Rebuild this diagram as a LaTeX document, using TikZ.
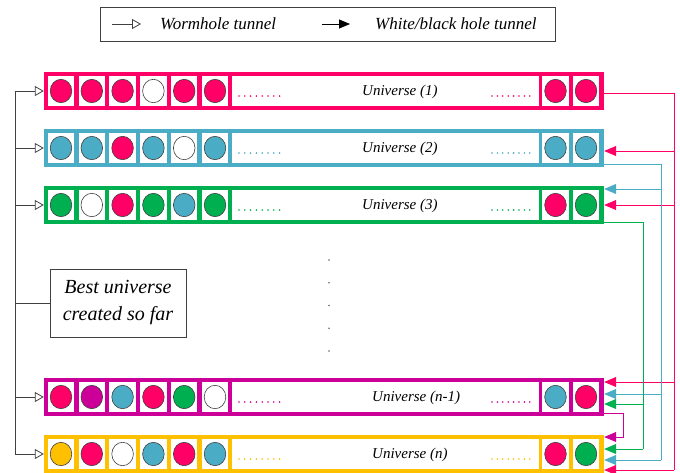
\documentclass[tikz,border=0pt]{standalone}
\usepackage{fontspec}
\setmainfont{Liberation Serif}
\usetikzlibrary{calc,arrows.meta,positioning}
\definecolor{upink}{HTML}{FF0066}
\definecolor{ublue}{HTML}{4BACC6}
\definecolor{ugreen}{HTML}{00B050}
\definecolor{umag}{HTML}{CC0099}
\definecolor{uyel}{HTML}{FFC000}

\begin{document}
\begin{tikzpicture}[x=1pt,y=-1pt,
 ubox/.style={fill=#1,minimum width=560pt,minimum height=38pt,inner sep=0pt},
 cell/.style={fill=white,inner sep=0pt,minimum height=30pt,minimum width=#1},
 worm/.style={draw=black!75,line width=0.8pt,-{Triangle[open,length=9pt,width=10pt]}},
 wb/.style={draw=#1,line width=0.8pt,-{Triangle[length=12pt,width=10pt,fill=#1]}},
 trunk/.style={draw=#1,line width=0.8pt},
 ulab/.style={font=\fontsize{15}{18}\selectfont\itshape,anchor=west,inner sep=0pt},
 legtxt/.style={font=\fontsize{17}{20}\selectfont\itshape,anchor=west,inner sep=0pt}]
\useasboundingbox (0,0) rectangle (680,472);

\node[draw=black!75,line width=0.8pt,minimum width=455pt,minimum height=34pt] (leg) at (328,24) {};
\node[legtxt] (lw) at (160,24) {Wormhole tunnel};
\node[legtxt] (lb) at (375,24) {White/black hole tunnel};
\draw[worm] ([xshift=-48pt]lw.west) -- ([xshift=-19pt]lw.west);
\draw[line width=0.8pt,-{Triangle[length=11pt,width=9pt]}] ([xshift=-53pt]lb.west) -- ([xshift=-25pt]lb.west);

\foreach \n/\y/\col/\lab/\tx/\balls in {
 1/91/upink/1/362/{upink,upink,upink,white,upink,upink,upink,upink},
 2/148/ublue/2/362/{ublue,ublue,upink,ublue,white,ublue,ublue,ublue},
 3/205/ugreen/3/362/{ugreen,white,upink,ugreen,ublue,ugreen,upink,ugreen},
 4/397/umag/n-1/372/{upink,umag,ublue,upink,ugreen,white,ublue,upink},
 5/454/uyel/n/372/{uyel,upink,white,ublue,upink,ublue,upink,ugreen}}
{
 \node[ubox=\col] (u\n) at (324,\y) {};
 \node[cell=307pt] at (385.5,\y) {};
 \foreach \bc [count=\m] in \balls
 {
  \pgfmathsetmacro\bx{\m<7 ? 61+(\m-1)*30.8 : 555.5+(\m-7)*30.5}
  \node[cell=26.5pt] at (\bx,\y) {};
  \filldraw[fill=\bc,draw=black!75,line width=0.6pt] (\bx,\y) ellipse (10.8pt and 11.7pt);
 }
 \foreach \k in {0,...,7}
 {
  \fill[\col] (239+\k*5.8,\y+5) circle (0.9pt);
  \fill[\col] (492+\k*5.4,\y+5) circle (0.9pt);
 }
 \node[ulab] at (\tx,\y+1) {Universe (\lab)};
}

\foreach \k in {0,...,4}
 \fill[black!60] (329,260+\k*22.75) circle (0.8pt);

\coordinate (lt) at (15,0);
\node[draw=black!75,line width=0.8pt,align=center,font=\fontsize{20}{27}\selectfont\itshape,minimum width=136pt,minimum height=68pt,inner sep=0pt] (best) at (118,303) {Best universe\\created so far};
\draw[black!75,line width=0.8pt] (lt |- u1.west) -- (lt |- u5.west);
\draw[black!75,line width=0.8pt] (lt |- best.west) -- (best.west);
\foreach \n in {1,...,5}
 \draw[worm] (lt |- u\n.west) -- (u\n.west);

\coordinate (pk) at (674,0);
\coordinate (bl) at (661,0);
\coordinate (gr) at (643,0);
\coordinate (mg) at (623,0);

\coordinate (p2) at ([yshift=-3pt]u2.east);
\coordinate (p3) at (u3.east);
\coordinate (p4) at ([yshift=15pt]u4.east);
\coordinate (p5) at ([yshift=-16pt]u5.east);
\draw[trunk=upink] ([yshift=-2pt]u1.east) -| (pk |- p5);
\foreach \p in {p2,p3,p4,p5}
 \draw[wb=upink] (pk |- \p) -- (\p);

\coordinate (b3) at ([yshift=16pt]u3.east);
\coordinate (b4) at ([yshift=3pt]u4.east);
\coordinate (b5) at ([yshift=-6pt]u5.east);
\draw[trunk=ublue] ([yshift=-16pt]u2.east) -| (bl |- b5);
\foreach \p in {b3,b4,b5}
 \draw[wb=ublue] (bl |- \p) -- (\p);

\coordinate (g4) at ([yshift=-7pt]u4.east);
\coordinate (g5) at ([yshift=5pt]u5.east);
\draw[trunk=ugreen] ([yshift=-17pt]u3.east) -| (gr |- g5);
\foreach \p in {g4,g5}
 \draw[wb=ugreen] (gr |- \p) -- (\p);

\coordinate (m5) at ([yshift=17pt]u5.east);
\draw[wb=umag] ([yshift=-16pt]u4.east) -| (mg |- m5) -- (m5);
\end{tikzpicture}
\end{document}
